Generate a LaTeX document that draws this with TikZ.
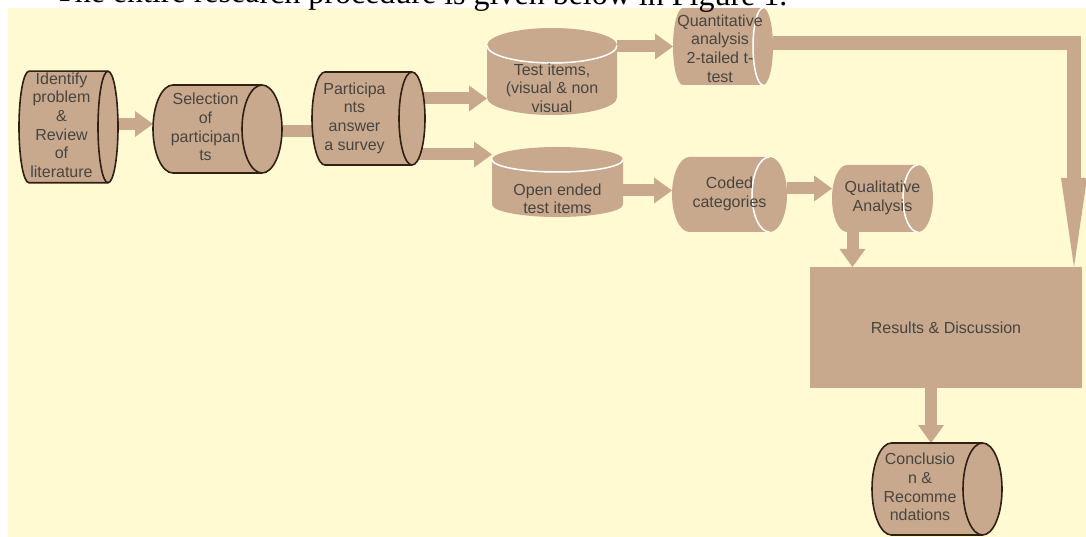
\documentclass[tikz,border=0pt]{standalone}
\usepackage{fontspec}
\setmainfont{Liberation Serif}
\newfontfamily\arialfont{Liberation Sans}
\usetikzlibrary{arrows.meta,calc}

\definecolor{paper}{RGB}{255,250,210}
\definecolor{canfill}{RGB}{201,169,141}
\definecolor{rim}{RGB}{48,32,20}
\definecolor{ink}{RGB}{72,68,64}

\pgfdeclarelayer{paperlayer}
\pgfdeclarelayer{arrowlayer}
\pgfdeclarelayer{canlayer}
\pgfsetlayers{paperlayer,arrowlayer,canlayer,main}

\newcommand{\boxfont}{\arialfont\fontsize{16}{18.6}\selectfont}
% lines of a can label, moved left by half of #1
\newcommand{\lines}[2]{\begin{tabular}{@{}c@{}}#2\end{tabular}\hspace*{#1}}
% lines of a database label, moved down
\newcommand{\dblines}[2]{\raisebox{-#1}[0pt][0pt]{\begin{tabular}{@{}c@{}}#2\end{tabular}}}
% lying can round a node: node, x radius, body style, rim style
\newcommand{\sidecan}[4]{%
  \begin{pgfonlayer}{canlayer}
    \path[#3] let \p1=(#1.north west), \p2=(#1.south east), \n1={(\y1-\y2)/2} in
      (\x2-#2pt,\y1) -- (\x1+#2pt,\y1) arc[start angle=90, end angle=270, x radius=#2pt, y radius=\n1]
      -- (\x2-#2pt,\y2) arc[start angle=-90, end angle=90, x radius=#2pt, y radius=\n1] -- cycle;
    \draw[#4] let \p1=(#1.north west), \p2=(#1.south east), \n1={(\y1-\y2)/2} in
      (\x2-#2pt,\y1) arc[start angle=90, end angle=270, x radius=#2pt, y radius=\n1];
  \end{pgfonlayer}}
% standing can (database) round a node: node, y radius, body style, rim style
\newcommand{\topcan}[4]{%
  \begin{pgfonlayer}{canlayer}
    \path[#3] let \p1=(#1.north west), \p2=(#1.south east), \n1={(\x2-\x1)/2} in
      (\x1,\y1-#2pt) -- (\x1,\y2+#2pt) arc[start angle=180, end angle=360, x radius=\n1, y radius=#2pt]
      -- (\x2,\y1-#2pt) arc[start angle=0, end angle=180, x radius=\n1, y radius=#2pt] -- cycle;
    \draw[#4] let \p1=(#1.north west), \p2=(#1.south east), \n1={(\x2-\x1)/2} in
      (\x1,\y1-#2pt) arc[start angle=180, end angle=360, x radius=\n1, y radius=#2pt];
  \end{pgfonlayer}}

\tikzset{
  label box/.style={inner sep=0pt, outer sep=0pt, text=ink, font=\boxfont},
  rimbody/.style={fill=canfill, draw=rim, line width=1.6pt},
  rimline/.style={draw=rim, line width=1.6pt},
  plainbody/.style={fill=canfill},
  whiteline/.style={draw=white, line width=1.5pt},
  flow/.style={canfill, line width=12pt, -{Triangle[length=18pt, width=26pt, line width=0pt]}},
  joint/.style={canfill, line width=12pt},
}

\begin{document}
\begin{tikzpicture}[x=1pt, y=-1pt]
	\useasboundingbox (0,0) rectangle (1086,537);
	\clip (0,0) rectangle (1086,537);
	\begin{pgfonlayer}{paperlayer}
		\fill[paper] (8,8) rectangle (1086,537);
	\end{pgfonlayer}
	\node[anchor=base west, inner sep=0pt, rotate=-0.3, font=\fontsize{32}{36}\selectfont] (caption) at (55,2) {The entire research procedure is given below in Figure 1.};

	% left chain
	\node[label box, minimum width=99pt, minimum height=110pt] (problem) at (68.5,127) {\lines{14pt}{Identify\\problem\\\&\\Review\\of\\literature}};
	\node[label box, minimum width=129pt, minimum height=88pt] (select) at (217.5,129) {\lines{24pt}{Selection\\of\\participan\\ts}};
	\node[label box, minimum width=113pt, minimum height=93pt] (survey) at (368.5,118.5) {\lines{28pt}{Participa\\nts\\answer\\a survey}};
	\sidecan{problem}{10}{rimbody}{rimline}
	\sidecan{select}{20}{rimbody}{rimline}
	\sidecan{survey}{13}{rimbody}{rimline}

	% two branches
	\node[label box, minimum width=130pt, minimum height=87pt] (items) at (552,71.5) {\dblines{23pt}{Test items,\\(visual \& non\\visual}};
	\node[label box, minimum width=131pt, minimum height=70pt] (open) at (557.5,182) {\dblines{23pt}{Open ended\\test items}};
	\node[label box, minimum width=100pt, minimum height=77pt] (quant) at (723,46.5) {\raisebox{-4pt}[\height][\depth]{\lines{6pt}{Quantitative\\analysis\\2-tailed t-\\test}}};
	\node[label box, minimum width=115pt, minimum height=75pt] (coded) at (729.5,194.5) {\lines{0pt}{Coded\\categories}};
	\node[label box, minimum width=101pt, minimum height=67pt] (qual) at (882.5,198.5) {\lines{0pt}{Qualitative\\Analysis}};
	\topcan{items}{17.5}{plainbody}{whiteline}
	\topcan{open}{12.5}{plainbody}{whiteline}
	\sidecan{quant}{10}{plainbody}{whiteline}
	\sidecan{coded}{17.5}{plainbody}{whiteline}
	\sidecan{qual}{15}{plainbody}{whiteline}

	% end
	\node[label box, fill=canfill, minimum width=272pt, minimum height=121pt] (results) at (946,327.5) {Results \& Discussion};
	\node[label box, minimum width=130pt, minimum height=92pt] (concl) at (937,489) {\lines{34pt}{Conclusio\\n \&\\Recomme\\ndations}};
	\sidecan{concl}{19.5}{rimbody}{rimline}

	\begin{pgfonlayer}{arrowlayer}
		\draw[flow] ([yshift=3pt]problem.east) -- ([yshift=3pt]problem.east -| select.west);
		\draw[joint] ([xshift=-5pt, yshift=-2pt]select.east) -- ([xshift=5pt, yshift=-2pt]select.east -| survey.west);
		\draw[flow] ([yshift=20pt, xshift=-8pt]survey.east) -- ([yshift=20pt]survey.east -| items.west);
		\draw[flow] ([yshift=-36pt, xshift=-8pt]survey.east) -- ([yshift=-36pt]survey.east -| open.west);
		\draw[flow] (items.east |- quant.west) -- (quant.west);
		\draw[flow] ([yshift=4pt]open.east |- coded.west) -- ([yshift=4pt]coded.west);
		\draw[flow] ([yshift=6pt]coded.east) -- ([yshift=6pt]coded.east -| qual.west);
		\draw[flow] ([xshift=-30pt]qual.south) -- ([xshift=-30pt]qual.south |- results.north);
		\draw[canfill, line width=14pt, -{Triangle[length=89pt, width=26pt, line width=0pt]}] ([yshift=3pt]quant.east) -| ([xshift=-8pt]results.north east);
		\draw[flow] ([xshift=-6pt]results.south -| concl.north) -- ([xshift=-6pt]concl.north);
	\end{pgfonlayer}
\end{tikzpicture}
\end{document}
